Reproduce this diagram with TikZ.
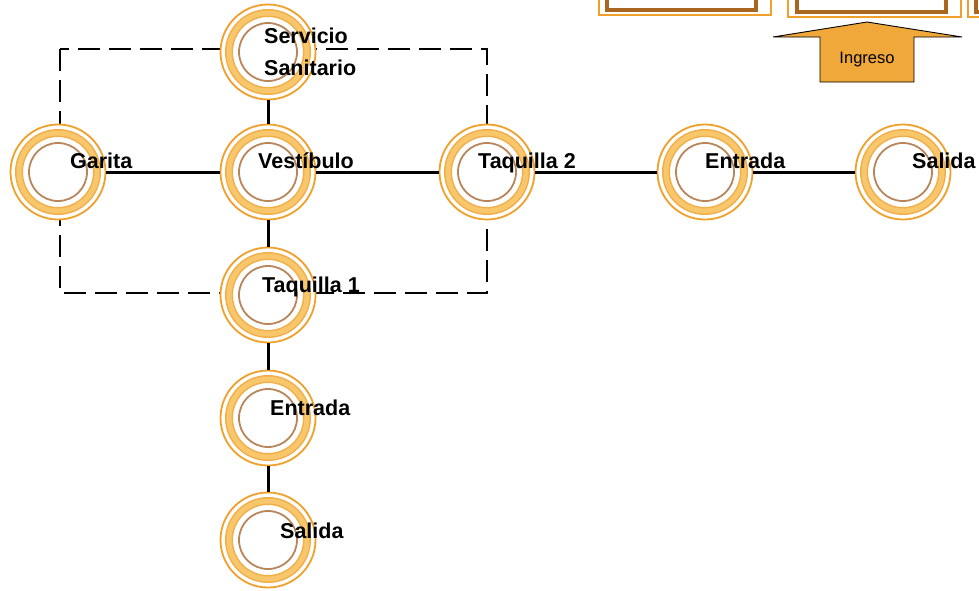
\documentclass[tikz,border=0pt]{standalone}
\usepackage{fontspec}
\setmainfont{Liberation Sans}
\usepackage{xcolor}
\usepackage{tikz}
\usetikzlibrary{
  positioning,
  calc
}
\definecolor{SalaOrange}{HTML}{F0A028}
\definecolor{SalaLight}{HTML}{F9C76B}
\definecolor{SalaBrown}{HTML}{B8865A}
\definecolor{CajaBrown}{HTML}{A8661E}
\definecolor{FlechaFill}{HTML}{F0A83A}

\tikzset{
  sala/.style={circle, minimum size=95pt, inner sep=0pt,
    draw=SalaOrange, line width=1.8pt, fill=white,
    path picture={
      \draw[SalaOrange!85, line width=8pt] (path picture bounding box.center) circle (39pt);
      \draw[SalaLight, line width=5pt] (path picture bounding box.center) circle (39pt);
      \draw[SalaBrown, line width=1.8pt] (path picture bounding box.center) circle (29pt);
    }},
  etiqueta/.style={anchor=base west, inner sep=0pt, align=left,
    font=\fontsize{21.5}{32}\selectfont\bfseries},
  enlace/.style={draw=black, line width=3pt},
  zona/.style={draw=black, line width=2.2pt, dash pattern=on 22pt off 9pt},
  cajaext/.style={draw=SalaOrange, line width=2.2pt},
  cajaint/.style={draw=CajaBrown, line width=3.2pt}
}

\begin{document}
\begin{tikzpicture}[x=1pt,y=-1pt]
  \useasboundingbox (0,0) rectangle (979,590);
  \clip (0,0) rectangle (979,590);

  % zona punteada
  \coordinate (zona-a) at (60,49);
  \coordinate (zona-b) at (487,293);
  \draw[zona] (zona-a) rectangle (zona-b);

  % cajas superiores
  \draw[cajaext] (599,-10) rectangle (771,15);
  \draw[cajaint] (607,-10) rectangle (756,10);
  \draw[cajaext] (788,-10) rectangle (961,17);
  \draw[cajaint] (797,-10) rectangle (946,12);
  \draw[cajaext] (968,-10) rectangle (1000,17);
  \draw[cajaint] (976,-10) rectangle (1000,12);

  % flecha de ingreso
  \draw[fill=FlechaFill, draw=black, line width=0.9pt]
    (773,37) -- (867,22) -- (962,37) -- (914,37) -- (914,82)
    -- (820,82) -- (820,37) -- cycle;
  \node[font=\fontsize{16.5}{20}\selectfont] (ingreso) at (867,60) {Ingreso};

  % salas
  \node[sala] (servicio) at (268,52)  {};
  \node[sala] (garita)   at (58,172)  {};
  \node[sala] (vest)     at (268,172) {};
  \node[sala] (taq2)     at (487,172) {};
  \node[sala] (ent2)     at (705,172) {};
  \node[sala] (sal2)     at (903,172) {};
  \node[sala] (taq1)     at (268,295) {};
  \node[sala] (ent1)     at (268,418) {};
  \node[sala] (sal1)     at (268,540) {};

  % enlaces
  \draw[enlace] (garita) -- (vest);
  \draw[enlace] (vest) -- (taq2);
  \draw[enlace] (taq2) -- (ent2);
  \draw[enlace] (ent2) -- (sal2);
  \draw[enlace] (servicio) -- (vest);
  \draw[enlace] (vest) -- (taq1);
  \draw[enlace] (taq1) -- (ent1);
  \draw[enlace] (ent1) -- (sal1);

  % etiquetas
  \node[etiqueta] (servicio-t) at (264,75)  {Servicio\\Sanitario};
  \node[etiqueta] (garita-t)   at (70,168)  {Garita};
  \node[etiqueta] (vest-t)     at (258,168) {Vestíbulo};
  \node[etiqueta] (taq2-t)     at (478,168) {Taquilla 2};
  \node[etiqueta] (ent2-t)     at (705,168) {Entrada};
  \node[etiqueta] (sal2-t)     at (912,168) {Salida};
  \node[etiqueta] (taq1-t)     at (262,292) {Taquilla 1};
  \node[etiqueta] (ent1-t)     at (270,415) {Entrada};
  \node[etiqueta] (sal1-t)     at (280,538) {Salida};
\end{tikzpicture}
\end{document}
